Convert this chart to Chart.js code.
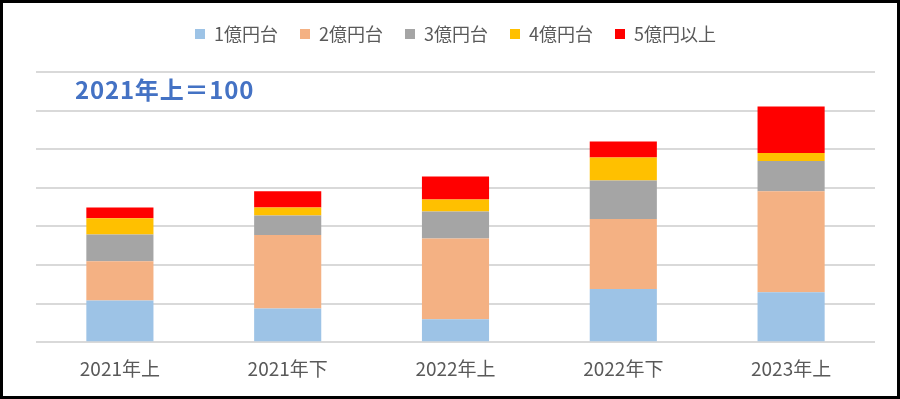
<!DOCTYPE html>
<html lang="ja">
<head>
<meta charset="utf-8">
<script src="https://cdn.jsdelivr.net/npm/chart.js@4/dist/chart.umd.min.js"></script>
<style>
  html, body { margin: 0; padding: 0; background: #fff; }
  .frame {
    position: relative;
    width: 900px;
    height: 399px;
    box-sizing: border-box;
    border: 3px solid #000;
  }
  .chart-box { position: absolute; left: 0; top: 0; width: 894px; height: 393px; }
  .base-note {
    position: absolute;
    left: 72px;
    top: 68px;
    font-family: "Noto Sans CJK JP", sans-serif;
    font-weight: bold;
    font-size: 24px;
    color: #4472C4;
    letter-spacing: 0.8px;
    white-space: nowrap;
  }
</style>
</head>
<body>
<div class="frame">
  <div class="chart-box"><canvas id="chart"></canvas></div>
  <div class="base-note">2021年上＝100</div>
</div>
<script>
// 期間
const periods = ['2021年上', '2021年下', '2022年上', '2022年下', '2023年上'];

// 価格帯別の指数（2021年上の合計 = 100）
const oku1 = [31, 25, 17, 39.5, 37];
const oku2 = [29, 54.5, 60, 52, 75];
const oku3 = [20, 14.5, 20, 28.5, 22.5];
const oku4 = [12, 6, 9, 17, 6];
const oku5plus = [8, 12, 17, 12, 34.5];

const seriesNames = ['1億円台', '2億円台', '3億円台', '4億円台', '5億円以上'];
const seriesColors = ['#9DC3E6', '#F4B183', '#A5A5A5', '#FFC000', '#FF0000'];

const gridStep = 28.65;

const font = '"Noto Sans CJK JP", sans-serif';

// leave some room under the legend
const legendGap = {
  id: 'legendGap',
  beforeInit(chart) {
    const origFit = chart.legend.fit;
    chart.legend.fit = function () {
      origFit.bind(chart.legend)();
      this.height += 19;
    };
  }
};

const datasets = [oku1, oku2, oku3, oku4, oku5plus].map((vals, i) => ({
  label: seriesNames[i],
  data: vals,
  backgroundColor: seriesColors[i],
  borderWidth: 0,
  barPercentage: 0.4,
  categoryPercentage: 1.0
}));

new Chart(document.getElementById('chart'), {
  type: 'bar',
  data: { labels: periods, datasets: datasets },
  plugins: [legendGap],
  options: {
    responsive: true,
    maintainAspectRatio: false,
    animation: false,
    layout: { padding: { top: 0, left: 33, right: 22, bottom: 9 } },
    plugins: {
      tooltip: { enabled: false },
      legend: {
        position: 'top',
        labels: {
          boxWidth: 10,
          boxHeight: 10,
          padding: 22,
          color: '#595959',
          font: { family: font, size: 18 }
        }
      }
    },
    scales: {
      x: {
        stacked: true,
        grid: { display: false },
        border: { display: false },
        ticks: { color: '#595959', padding: 7, font: { family: font, size: 19 } }
      },
      y: {
        stacked: true,
        min: 0,
        max: gridStep * 7,
        grid: { color: '#D9D9D9', lineWidth: 2, drawTicks: false },
        border: { display: false },
        ticks: { display: false, stepSize: gridStep }
      }
    }
  }
});
</script>
</body>
</html>
